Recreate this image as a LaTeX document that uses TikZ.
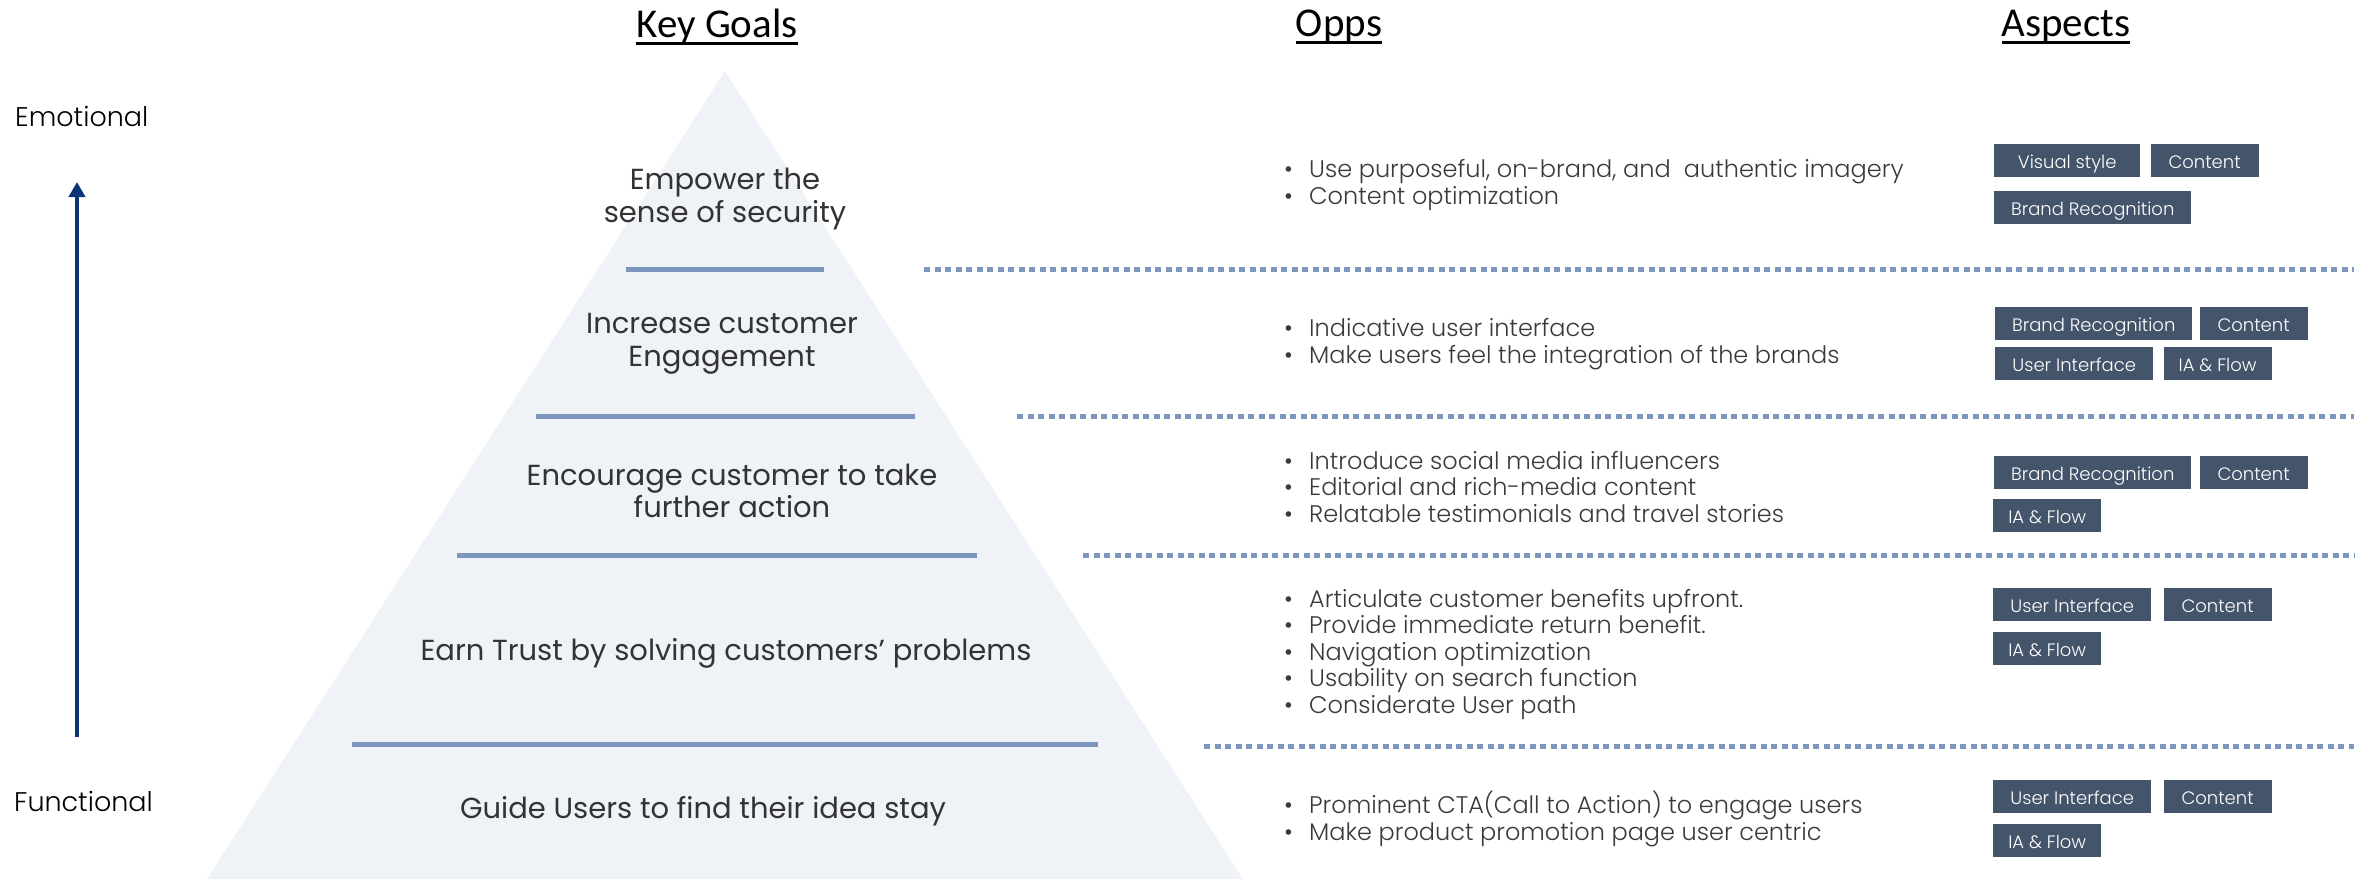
\documentclass[tikz,border=0pt]{standalone}
\usepackage{fontspec}
\usepackage{tikz}
\usetikzlibrary{positioning,arrows.meta}
\setmainfont{Poppins}
\IfFontExistsTF{Poppins Light}{\newfontfamily\lightfont{Poppins Light}}{\newfontfamily\lightfont{Poppins}}
\newfontfamily\headfont{Carlito}
\definecolor{pyramidFill}{HTML}{EFF3F7}
\definecolor{barBlue}{HTML}{7D96BE}
\definecolor{aspectFill}{HTML}{44546A}
\definecolor{arrowNavy}{HTML}{0C3278}
\definecolor{goalText}{HTML}{333333}
\definecolor{oppText}{HTML}{3A3A3A}
\newcommand{\headline}[1]{\setbox0\hbox{#1}\rlap{\rule[-7pt]{\wd0}{3pt}}\box0}
\newcommand{\opp}[0]{\makebox[25pt][l]{\textbullet}}

\begin{document}
\begin{tikzpicture}[x=1pt, y=-1pt]
  \tikzset{header/.style={font=\headfont\fontsize{41}{41}\selectfont},
           side/.style={font=\lightfont\fontsize{27}{27}\selectfont, anchor=west, inner sep=0pt},
           goal/.style={font=\fontsize{29}{32.5}\selectfont, text=goalText, align=center},
           opps/.style={font=\lightfont\fontsize{24}{26.5}\selectfont, text=oppText, align=left, anchor=west, inner sep=0pt},
           aspect/.style={fill=aspectFill, text=white, font=\lightfont\fontsize{18}{18}\selectfont,
                          minimum height=33pt, minimum width=#1, inner xsep=0pt, inner ysep=0pt,
                          text height=16pt, text depth=0pt, anchor=west},
           bar/.style={barBlue, line width=5pt},
           divider/.style={barBlue, line width=5pt, dash pattern=on 6pt off 4.5pt}}
  \useasboundingbox (0,0) rectangle (2372,879);
  \fill[pyramidFill] (725,71) -- (1243,879) -- (207,879) -- cycle;
  % column headers
  \node[header] (hGoals) at (717,27) {\headline{Key Goals}};
  \node[header] (hOpps) at (1339,27) {\headline{Opps}};
  \node[header] (hAspects) at (2066,27) {\headline{Aspects}};
  % scale on the left
  \node[side] (emo) at (15,116) {Emotional};
  \node[side] (fun) at (14,801) {Functional};
  \coordinate (arrowLow) at (77,737);
  \coordinate (arrowHigh) at (77,182);
  \draw[arrowNavy, line width=4.5pt, -{Triangle[length=15pt, width=16pt]}] (arrowLow) -- (arrowHigh);
  % levels of the pyramid
  \draw[bar] (626,269) -- (824,269);
  \draw[bar] (536,416) -- (915,416);
  \draw[bar] (457,555) -- (977,555);
  \draw[bar] (352,744) -- (1098,744);
  \draw[divider] (924,269) -- (2354,269);
  \draw[divider] (1017,416) -- (2354,416);
  \draw[divider] (1083,555) -- (2354,555);
  \draw[divider] (1204,746) -- (2354,746);
  \node[goal] (g1) at (725,199) {Empower the\\sense of security};
  \node[goal] (g2) at (722,344) {Increase customer\\Engagement};
  \node[goal] (g3) at (732,491) {Encourage customer to take\\further action};
  \node[goal] (g4) at (726,653) {Earn Trust by solving customers’ problems};
  \node[goal] (g5) at (703,811) {Guide Users to find their idea stay};
  % opportunities
  \node[opps] (o1) at (1284,185) {\opp Use purposeful, on-brand, and\ \ authentic imagery\\\opp Content optimization};
  \node[opps] (o2) at (1284,344) {\opp Indicative user interface\\\opp Make users feel the integration of the brands};
  \node[opps] (o3) at (1284,487) {\opp Introduce social media influencers\\\opp Editorial and rich-media content\\\opp Relatable testimonials and travel stories};
  \node[opps] (o4) at (1284,654) {\opp Articulate customer benefits upfront.\\\opp Provide immediate return benefit.\\\opp Navigation optimization\\\opp Usability on search function\\\opp Considerate User path};
  \node[opps] (o5) at (1284,819) {\opp Prominent CTA(Call to Action) to engage users\\\opp Make product promotion page user centric};
  % aspects
  \node[aspect=146pt] (a1a) at (1994,160) {Visual style};
  \node[aspect=108pt, right=10pt of a1a] (a1b) {Content};
  \node[aspect=197pt] (a1c) at (1994,207) {Brand Recognition};
  \node[aspect=197pt] (a2a) at (1995,323) {Brand Recognition};
  \node[aspect=108pt, right=7pt of a2a] (a2b) {Content};
  \node[aspect=158pt] (a2c) at (1995,363) {User Interface};
  \node[aspect=108pt, right=10pt of a2c] (a2d) {IA \& Flow};
  \node[aspect=197pt] (a3a) at (1994,472) {Brand Recognition};
  \node[aspect=108pt, right=8pt of a3a] (a3b) {Content};
  \node[aspect=108pt] (a3c) at (1993,515) {IA \& Flow};
  \node[aspect=158pt] (a4a) at (1993,604) {User Interface};
  \node[aspect=108pt, right=12pt of a4a] (a4b) {Content};
  \node[aspect=108pt] (a4c) at (1993,648) {IA \& Flow};
  \node[aspect=158pt] (a5a) at (1993,796) {User Interface};
  \node[aspect=108pt, right=12pt of a5a] (a5b) {Content};
  \node[aspect=108pt] (a5c) at (1993,840) {IA \& Flow};
\end{tikzpicture}
\end{document}
